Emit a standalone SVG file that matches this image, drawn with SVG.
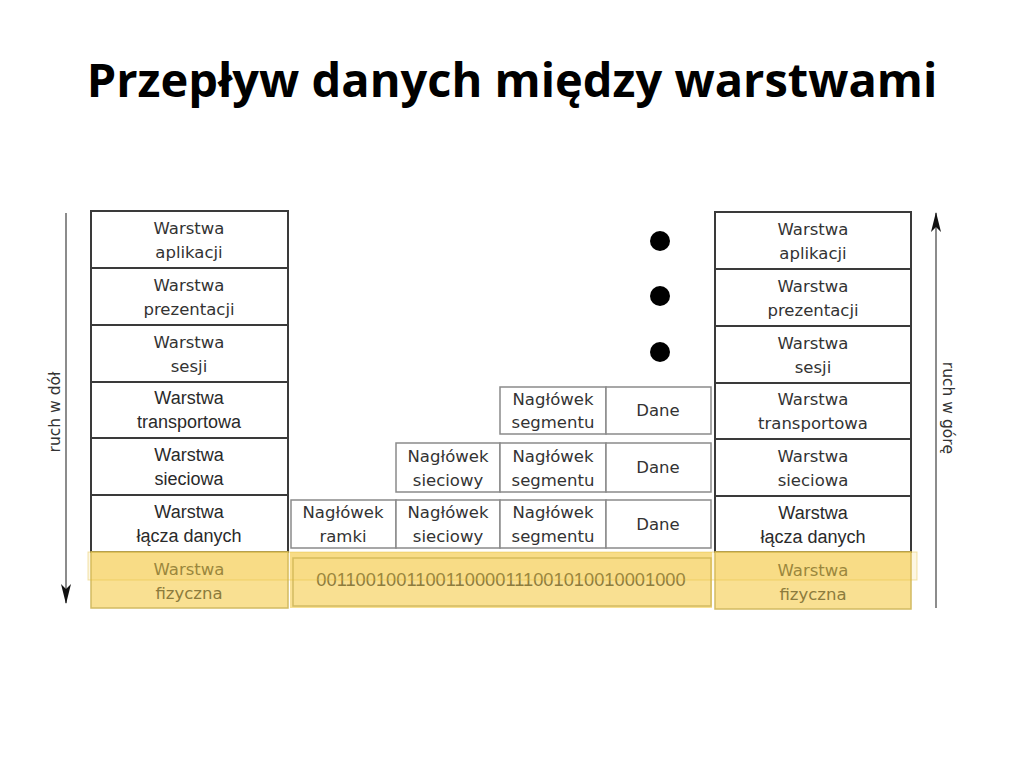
<svg xmlns="http://www.w3.org/2000/svg" width="1024" height="768" viewBox="0 0 1024 768">
  <defs>
    <style>
      .title { font-family: "Open Sans", "Liberation Sans", sans-serif; font-weight: bold; font-size: 47px; fill: #000; }
      .cell { fill: #fff; stroke: #3a3a3a; stroke-width: 2; }
      .phys { fill: #f9e092; stroke: #d2bb62; stroke-width: 1.5; }
      .pkt { fill: #fff; stroke: #8a8a8a; stroke-width: 1.5; }
      .t { font-family: "DejaVu Sans", sans-serif; font-size: 16.5px; fill: #333; text-anchor: middle; }
      .ta { font-family: "Liberation Sans", sans-serif; font-size: 18px; fill: #2a2a2a; text-anchor: middle; }
      .tp { font-family: "DejaVu Sans", sans-serif; font-size: 16.5px; fill: #8c7b3c; text-anchor: middle; }
      .bits { font-family: "Liberation Sans", sans-serif; font-size: 18.3px; fill: #8c7b3c; text-anchor: middle; }
      .side { font-family: "DejaVu Sans", sans-serif; font-size: 15.5px; fill: #333; text-anchor: middle; }
      .axis { stroke: #666; stroke-width: 1.5; fill: none; }
    </style>
    <!-- slim, long arrowhead -->
    <marker id="ah" viewBox="0 0 20 10" refX="19" refY="5" markerWidth="20" markerHeight="10" markerUnits="userSpaceOnUse" orient="auto">
      <path d="M0,0 L20,5 L0,10 L5,5 Z" fill="#111"/>
    </marker>
  </defs>

  <text class="title" x="512" y="97" text-anchor="middle">Przepływ danych między warstwami</text>

  <!-- sending stack -->
  <g id="left-stack">
    <g id="l-app"><rect class="cell" x="91" y="211" width="197" height="57"/><text class="t" x="189" y="234">Warstwa</text><text class="t" x="189" y="258">aplikacji</text></g>
    <g id="l-pres"><rect class="cell" x="91" y="268" width="197" height="57"/><text class="t" x="189" y="291">Warstwa</text><text class="t" x="189" y="315">prezentacji</text></g>
    <g id="l-sess"><rect class="cell" x="91" y="325" width="197" height="57"/><text class="t" x="189" y="348">Warstwa</text><text class="t" x="189" y="372">sesji</text></g>
    <g id="l-trans"><rect class="cell" x="91" y="382" width="197" height="56"/><text class="ta" x="189" y="404">Warstwa</text><text class="ta" x="189" y="428">transportowa</text></g>
    <g id="l-net"><rect class="cell" x="91" y="438" width="197" height="57"/><text class="ta" x="189" y="461">Warstwa</text><text class="ta" x="189" y="485">sieciowa</text></g>
    <g id="l-link"><rect class="cell" x="91" y="495" width="197" height="57"/><text class="ta" x="189" y="518">Warstwa</text><text class="ta" x="189" y="542">łącza danych</text></g>
    <g id="l-phys"><rect class="phys" x="91" y="552" width="197" height="56"/><text class="tp" x="189" y="575">Warstwa</text><text class="tp" x="189" y="599">fizyczna</text></g>
  </g>

  <!-- receiving stack -->
  <g id="right-stack">
    <g id="r-app"><rect class="cell" x="715" y="212" width="196" height="57"/><text class="t" x="813" y="235">Warstwa</text><text class="t" x="813" y="259">aplikacji</text></g>
    <g id="r-pres"><rect class="cell" x="715" y="269" width="196" height="57"/><text class="t" x="813" y="292">Warstwa</text><text class="t" x="813" y="316">prezentacji</text></g>
    <g id="r-sess"><rect class="cell" x="715" y="326" width="196" height="57"/><text class="t" x="813" y="349">Warstwa</text><text class="t" x="813" y="373">sesji</text></g>
    <g id="r-trans"><rect class="cell" x="715" y="383" width="196" height="56"/><text class="t" x="813" y="405">Warstwa</text><text class="t" x="813" y="429">transportowa</text></g>
    <g id="r-net"><rect class="cell" x="715" y="439" width="196" height="57"/><text class="t" x="813" y="462">Warstwa</text><text class="t" x="813" y="486">sieciowa</text></g>
    <g id="r-link"><rect class="cell" x="715" y="496" width="196" height="56"/><text class="ta" x="813" y="519">Warstwa</text><text class="ta" x="813" y="543">łącza danych</text></g>
    <g id="r-phys"><rect class="phys" x="715" y="552" width="196" height="57"/><text class="tp" x="813" y="576">Warstwa</text><text class="tp" x="813" y="600">fizyczna</text></g>
  </g>

  <!-- encapsulated units -->
  <g id="segment">
    <rect class="pkt" x="500" y="387" width="106" height="47"/><text class="t" x="553" y="405">Nagłówek</text><text class="t" x="553" y="428">segmentu</text>
    <rect class="pkt" x="606" y="387" width="105" height="47"/><text class="t" x="658" y="416">Dane</text>
  </g>
  <g id="packet">
    <rect class="pkt" x="396" y="443" width="104" height="49"/><text class="t" x="448" y="462">Nagłówek</text><text class="t" x="448" y="486">sieciowy</text>
    <rect class="pkt" x="500" y="443" width="106" height="49"/><text class="t" x="553" y="462">Nagłówek</text><text class="t" x="553" y="486">segmentu</text>
    <rect class="pkt" x="606" y="443" width="105" height="49"/><text class="t" x="658" y="473">Dane</text>
  </g>
  <g id="frame">
    <rect class="pkt" x="291" y="500" width="105" height="48"/><text class="t" x="343" y="518">Nagłówek</text><text class="t" x="343" y="542">ramki</text>
    <rect class="pkt" x="396" y="500" width="104" height="48"/><text class="t" x="448" y="518">Nagłówek</text><text class="t" x="448" y="542">sieciowy</text>
    <rect class="pkt" x="500" y="500" width="106" height="48"/><text class="t" x="553" y="518">Nagłówek</text><text class="t" x="553" y="542">segmentu</text>
    <rect class="pkt" x="606" y="500" width="105" height="48"/><text class="t" x="658" y="530">Dane</text>
  </g>
  <g id="bitstream">
    <rect x="290" y="552" width="422" height="56" fill="#f9e092"/>
    <rect x="293" y="558" width="418" height="48" fill="none" stroke="#d2bb62" stroke-width="1.5"/>
    <text class="bits" x="501" y="586">0011001001100110000111001010010001000</text>
  </g>

  <!-- highlight band across physical layer -->
  <rect id="highlight" x="88" y="552" width="829" height="28" fill="#f0c840" fill-opacity="0.15" stroke="#e0b830" stroke-opacity="0.4" stroke-width="1"/>

  <!-- ellipsis for upper-layer data -->
  <g id="dots" fill="#000">
    <circle cx="660" cy="241" r="10"/>
    <circle cx="660" cy="296" r="10"/>
    <circle cx="660" cy="352" r="10"/>
  </g>

  <!-- direction arrows -->
  <g id="connectors">
    <line class="axis" x1="66" y1="213" x2="66" y2="603" marker-end="url(#ah)"/>
    <line class="axis" x1="936" y1="608" x2="936" y2="213" marker-end="url(#ah)"/>
  </g>
  <text class="side" transform="translate(60,412) rotate(-90)">ruch w dół</text>
  <text class="side" transform="translate(943,408) rotate(90)">ruch w górę</text>
</svg>
